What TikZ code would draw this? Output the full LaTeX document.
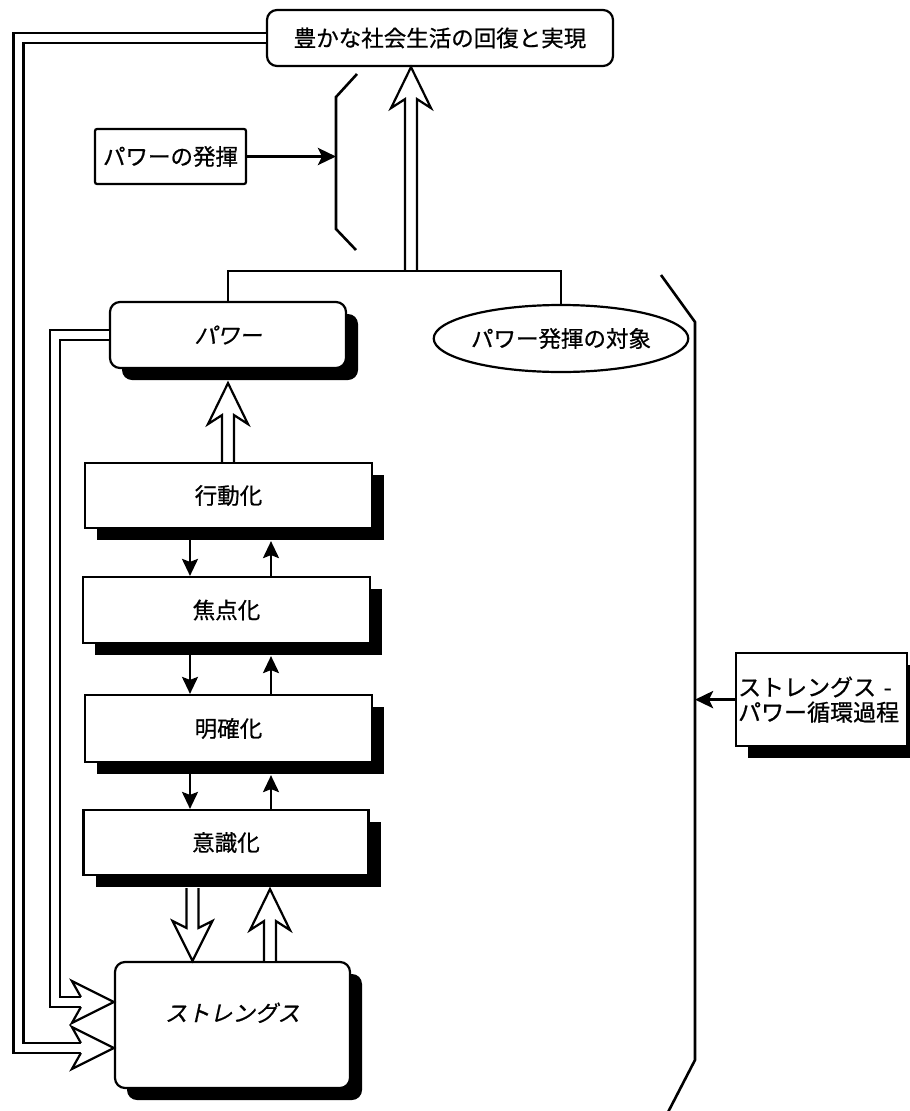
\documentclass[tikz,border=0pt]{standalone}
\usepackage{fontspec}
\setmainfont[FakeBold=0.7]{Noto Sans CJK JP}
\newfontfamily\cjkit[FakeSlant=0.22, FakeBold=0.7]{Noto Sans CJK JP}
\usetikzlibrary{arrows.meta,calc,shadows,shapes.geometric}
\tikzset{
  base/.style={draw, line width=2.2pt, fill=white, inner sep=0pt,
    font=\fontsize{22.5}{25}\selectfont},
  ital/.style={font=\fontsize{22.5}{25}\selectfont\cjkit},
  rbox/.style={rounded corners=10pt},
  shad/.style={drop shadow={shadow xshift=12pt, shadow yshift=-12pt, fill=black, opacity=1}},
  stepbox/.style={base, shad, minimum width=287pt, minimum height=66pt},
  conn/.style={line width=2.2pt},
  brk/.style={line width=2.6pt},
  solidarr/.style={line width=3.6pt, -{Stealth[length=18pt, width=17pt, inset=4pt]}},
  smallarr/.style={line width=2.4pt, -{Stealth[length=17pt, width=16pt, inset=3pt]}},
  hollow/.style={draw, line width=2.2pt, fill=white, line join=miter},
  dline/.style={double=white, double distance=7.5pt, line width=2.6pt},
}
\newcommand\arrHup[2]{\draw[hollow] let \p1=(#1), \p2=(#2) in
  ({\x1-6pt},{\y1}) -- ({\x1-6pt},{\y2-32pt}) -- ({\x1-20pt},{\y2-41pt}) -- ({\x1},{\y2})
  -- ({\x1+20pt},{\y2-41pt}) -- ({\x1+6pt},{\y2-32pt}) -- ({\x1+6pt},{\y1});}
\newcommand\arrHdown[2]{\draw[hollow] let \p1=(#1), \p2=(#2) in
  ({\x1-6pt},{\y1}) -- ({\x1-6pt},{\y2+33pt}) -- ({\x1-20pt},{\y2+40pt}) -- ({\x1},{\y2})
  -- ({\x1+20pt},{\y2+40pt}) -- ({\x1+6pt},{\y2+33pt}) -- ({\x1+6pt},{\y1});}
\newcommand\arrHright[1]{\draw[hollow] let \p2=(#1) in
  ({\x2-33pt},{\y2+5pt}) -- ({\x2-42pt},{\y2+21pt}) -- (\p2)
  -- ({\x2-42pt},{\y2-21pt}) -- ({\x2-33pt},{\y2-5pt});}
\begin{document}
\begin{tikzpicture}[x=1pt, y=-1pt]
\useasboundingbox (0,0) rectangle (910,1111);

% nodes
\node[base, rbox, minimum width=346pt, minimum height=56pt] (top) at (440,38) {豊かな社会生活の回復と実現};
\node[base, rounded corners=2pt, minimum width=151pt, minimum height=55pt] (pwh) at (170.5,156.5) {パワーの発揮};
\node[base, rbox, shad, ital, minimum width=236pt, minimum height=66pt] (pw) at (228,335) {パワー};
\node[base, ellipse, minimum width=243pt, minimum height=67pt] (obj) at (561,338.5) {パワー発揮の対象};
\node[stepbox, minimum height=65pt] (act) at (228.5,495.5) {行動化};
\node[stepbox] (foc) at (226.5,610) {焦点化};
\node[stepbox, minimum height=67pt] (cla) at (228.5,728.5) {明確化};
\node[stepbox, minimum width=285pt, minimum height=65pt] (con) at (226,842.5) {意識化};
\node[base, rbox, shad, ital, minimum width=235pt, minimum height=126pt, text depth=26pt] (st) at (232.5,1025) {ストレングス};
\node[base, shad, anchor=north west, text width=167pt, inner xsep=2pt, minimum height=93pt, align=left,
      font=\fontsize{23}{25}\selectfont] (rb) at (735,652) {ストレングス -\\パワー循環過程};

% brackets
\coordinate (lb1) at (357,74);
\coordinate (lb2) at (336,97);
\coordinate (lb3) at (336,229);
\coordinate (lb4) at (356,250);
\draw[brk] (lb1) -- (lb2) -- (lb3) -- (lb4);
\coordinate (rb1) at (661,275);
\coordinate (rb2) at (695,322);
\coordinate (rb3) at (695,1060);
\coordinate (rb4) at (665,1118);
\draw[brk] (rb1) -- (rb2) -- (rb3) -- (rb4);

% solid arrows to brackets
\draw[solidarr] (pwh.east) -- (pwh.east -| lb2);
\draw[solidarr] (rb.west) -- (rb.west -| rb2);

% junction and big hollow arrow up to top
\coordinate (j) at (411,271);
\coordinate (jt) at (top.south -| j);
\arrHup{j}{jt}
\draw[conn] (pw.north) -- (pw.north |- j) -- (obj.north |- j) -- (obj.north);

% action -> power
\coordinate (pwsh) at ($(pw.south)+(0,14)$);
\coordinate (ac) at (act.north -| pwsh);
\arrHup{ac}{pwsh}

% small arrows between step boxes
\coordinate (xd) at (190,0);
\coordinate (xu) at (271,0);
\draw[smallarr] (act.south -| xd) -- (foc.north -| xd);
\draw[smallarr] (foc.north -| xu) -- ($(act.south -| xu)+(0,12)$);
\draw[smallarr] (foc.south -| xd) -- (cla.north -| xd);
\draw[smallarr] (cla.north -| xu) -- ($(foc.south -| xu)+(0,12)$);
\draw[smallarr] (cla.south -| xd) -- (con.north -| xd);
\draw[smallarr] (con.north -| xu) -- ($(cla.south -| xu)+(0,12)$);

% hollow arrows between consciousness and strengths
\coordinate (xd2) at (192.5,0);
\coordinate (xu2) at (270,0);
\coordinate (cd1) at ($(con.south -| xd2)+(0,12)$);
\coordinate (cd2) at (st.north -| xd2);
\arrHdown{cd1}{cd2}
\coordinate (cu1) at (st.north -| xu2);
\coordinate (cu2) at ($(con.south -| xu2)+(0,13)$);
\arrHup{cu1}{cu2}

% feedback loops
\coordinate (t1) at (st.west |- 0,1048);
\coordinate (t2) at (st.west |- 0,1002);
\coordinate (l1a) at (18.5,38);
\coordinate (l1b) at (18.5,1048);
\draw[dline] (top.west) -- (l1a) -- (l1b) -- ($(t1)+(-33,0)$);
\arrHright{t1}
\coordinate (l2a) at (55,335);
\coordinate (l2b) at (55,1002);
\draw[dline] (pw.west) -- (l2a) -- (l2b) -- ($(t2)+(-33,0)$);
\arrHright{t2}
\end{tikzpicture}
\end{document}
